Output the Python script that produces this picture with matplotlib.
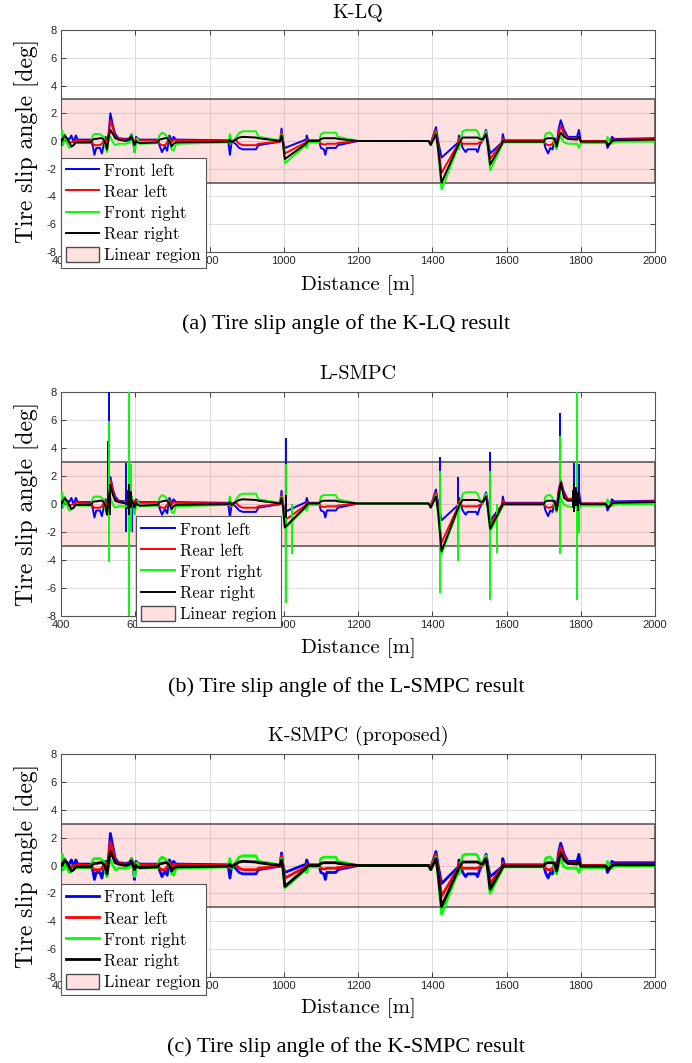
import matplotlib
matplotlib.use('Agg')
import matplotlib.pyplot as plt
from matplotlib.patches import Patch

plt.rcParams['axes.unicode_minus'] = False

# distance breakpoints [m], shared by every series (rows of 10)
distance = [
    400, 403, 406, 410, 416, 422, 428, 434, 440, 445,
    480, 486, 490, 495, 505, 510, 515, 520, 524, 528,
    533, 540, 546, 555, 575, 585, 590, 594, 598, 602,
    606, 612, 660, 665, 672, 680, 686, 692, 698, 703,
    710, 850, 855, 860, 870, 880, 890, 925, 932, 990,
    994, 998, 1003, 1060, 1062, 1066, 1095, 1100, 1108, 1112,
    1116, 1140, 1146, 1200, 1390, 1396, 1410, 1416, 1425, 1470,
    1472, 1476, 1482, 1490, 1495, 1518, 1522, 1528, 1536, 1545,
    1550, 1556, 1588, 1590, 1594, 1700, 1705, 1712, 1718, 1724,
    1730, 1735, 1740, 1746, 1755, 1765, 1790, 1795, 1800, 1868,
    1872, 1878, 1884, 1890, 2000,
]

# ---- K-LQ ----
klq_fl = [
    0.1, -0.3, 0.3, 0.0, 0.2, 0.1, 0.4, -0.1, 0.4, 0.1,
    0.1, -0.4, -1.0, -0.5, -0.5, -0.9, -0.3, 0.3, 0.0, 0.5,
    2.0, 1.1, 0.5, 0.2, 0.15, 0.2, 0.5, 0.0, -0.8, 0.3,
    0.2, 0.1, 0.1, -0.3, -0.8, -0.4, -0.7, 0.4, 0.0, 0.3,
    0.1, 0.05, -1.0, 0.0, -0.2, -0.5, -0.6, -0.6, -0.3, -0.05,
    0.9, 0.0, -0.5, 0.1, 0.4, 0.05, 0.05, -0.5, -0.6, -1.0,
    -0.5, -0.5, -0.3, 0.0, 0.0, -0.2, 1.0, 0.0, -1.2, -0.1,
    0.4, 0.0, -0.5, -0.8, -0.6, -0.6, -0.8, -0.3, 0.1, 0.8,
    0.0, -0.9, -0.1, 0.5, 0.05, 0.05, -0.5, -0.9, -0.5, -0.6,
    0.2, -0.3, 0.8, 1.5, 0.8, 0.3, 0.3, 0.8, 0.0, 0.0,
    -0.5, -0.2, 0.3, 0.15, 0.2,
]
klq_rl = [
    0.3, 0.2, 0.1, 0.0, 0.0, -0.1, -0.1, 0.0, 0.05, 0.05,
    0.0, -0.2, -0.3, -0.3, -0.3, -0.2, 0.0, 0.2, -0.3, 0.3,
    1.5, 0.9, 0.3, 0.15, 0.1, 0.1, 0.3, 0.0, -0.2, 0.2,
    0.1, 0.05, 0.05, -0.2, -0.3, -0.3, -0.1, 0.2, -0.1, 0.1,
    0.05, 0.0, -0.2, 0.0, 0.1, -0.2, -0.3, -0.3, -0.2, -0.05,
    0.7, 0.0, -0.9, -0.1, 0.1, 0.0, 0.0, -0.2, -0.25, -0.25,
    -0.2, -0.2, -0.15, 0.0, 0.0, -0.1, 0.8, -0.3, -2.3, -0.2,
    0.2, 0.0, -0.2, -0.2, -0.2, -0.2, -0.2, -0.1, 0.0, 0.6,
    -0.3, -1.3, -0.1, 0.2, 0.0, 0.0, -0.2, -0.3, -0.3, -0.2,
    0.1, -0.3, 0.5, 1.1, 0.5, 0.2, 0.15, 0.3, 0.0, 0.0,
    -0.2, -0.2, 0.1, 0.1, 0.15,
]
klq_fr = [
    0.3, 0.8, -0.3, 0.5, -0.1, -0.5, -0.4, -0.3, -0.1, -0.15,
    -0.15, 0.4, 0.5, 0.5, 0.5, 0.4, 0.3, -0.5, -0.8, 0.0,
    0.3, -0.1, -0.3, -0.2, -0.2, -0.1, 0.5, 0.0, -0.8, -0.2,
    0.2, -0.2, -0.15, 0.4, 0.6, 0.5, 0.3, 0.0, -0.6, -0.7,
    -0.2, -0.1, 0.5, -0.2, 0.2, 0.6, 0.7, 0.7, 0.3, 0.05,
    0.5, -0.2, -1.6, -0.3, -0.5, -0.1, -0.1, 0.5, 0.6, 0.6,
    0.6, 0.6, 0.3, 0.0, 0.0, -0.3, 0.6, -0.8, -3.5, -0.4,
    -0.6, 0.0, 0.7, 0.8, 0.8, 0.8, 0.7, 0.3, 0.0, 0.7,
    -0.6, -2.1, -0.3, -0.2, -0.1, -0.1, 0.5, 0.6, 0.6, 0.4,
    -0.3, -0.6, 0.0, 0.3, -0.1, -0.2, -0.2, -0.5, -0.15, -0.15,
    0.3, 0.0, -0.2, -0.05, -0.05,
]
klq_rr = [
    0.1, 0.0, 0.2, 0.4, 0.2, -0.1, -0.4, -0.3, -0.1, -0.1,
    -0.1, 0.1, 0.15, 0.15, 0.2, 0.2, 0.1, -0.2, -0.6, 0.2,
    0.8, 0.5, 0.2, 0.1, 0.0, 0.1, 0.35, 0.0, -0.3, 0.0,
    -0.1, -0.15, -0.1, 0.1, 0.15, 0.2, 0.2, 0.0, -0.4, -0.2,
    -0.1, -0.05, 0.1, -0.1, 0.1, 0.25, 0.3, 0.25, 0.2, 0.0,
    0.4, -0.2, -1.3, -0.2, -0.1, 0.0, 0.0, 0.15, 0.2, 0.2,
    0.2, 0.2, 0.15, 0.0, 0.0, -0.3, 0.5, -0.6, -3.0, -0.3,
    -0.2, 0.0, 0.25, 0.25, 0.25, 0.25, 0.25, 0.15, 0.1, 0.5,
    -0.4, -1.7, -0.2, 0.0, -0.05, -0.05, 0.15, 0.2, 0.2, 0.2,
    0.1, -0.4, 0.2, 0.6, 0.3, 0.15, 0.1, 0.3, -0.05, -0.05,
    -0.3, -0.2, 0.0, 0.05, 0.1,
]

# ---- L-SMPC ----
lsmpc_fl = [
    0.1, -0.3, 0.3, 0.0, 0.2, 0.1, 0.4, -0.1, 0.4, 0.1,
    0.1, -0.4, -1.0, -0.5, -0.5, -0.9, -0.3, 0.3, 0.0, 0.5,
    1.9, 1.0, 0.5, 0.2, 0.15, 0.3, 0.5, -0.2, -0.6, 0.3,
    0.2, 0.1, 0.1, -0.3, -0.8, -0.4, -0.7, 0.4, 0.0, 0.3,
    0.1, 0.05, -1.0, 0.0, -0.2, -0.5, -0.6, -0.6, -0.3, -0.05,
    0.9, 0.0, -0.6, 0.1, 0.4, 0.05, 0.05, -0.5, -0.6, -1.0,
    -0.5, -0.5, -0.3, 0.0, 0.0, -0.2, 1.0, 0.0, -1.2, -0.1,
    0.4, 0.0, -0.5, -0.8, -0.6, -0.6, -0.8, -0.3, 0.1, 0.8,
    0.0, -1.2, -0.1, 0.5, 0.05, 0.05, -0.5, -0.9, -0.5, -0.6,
    0.2, -0.3, 0.9, 1.6, 0.8, 0.3, 0.4, 0.9, 0.0, 0.0,
    -0.5, -0.2, 0.3, 0.15, 0.2,
]
lsmpc_rl = [
    0.3, 0.2, 0.1, 0.0, 0.0, -0.1, -0.1, 0.0, 0.05, 0.05,
    0.0, -0.2, -0.3, -0.3, -0.3, -0.2, 0.0, 0.2, -0.3, 0.3,
    1.7, 0.9, 0.3, 0.15, 0.1, 0.3, 0.4, -0.1, 0.2, 0.2,
    0.1, 0.05, 0.05, -0.2, -0.3, -0.3, -0.1, 0.2, -0.1, 0.1,
    0.05, 0.0, -0.2, 0.0, 0.1, -0.2, -0.3, -0.3, -0.2, -0.05,
    0.7, 0.0, -1.2, -0.1, 0.1, 0.0, 0.0, -0.2, -0.25, -0.25,
    -0.2, -0.2, -0.15, 0.0, 0.0, -0.1, 0.8, -0.3, -2.8, -0.2,
    0.2, 0.0, -0.2, -0.2, -0.2, -0.2, -0.2, -0.1, 0.0, 0.6,
    -0.3, -1.5, -0.1, 0.2, 0.0, 0.0, -0.2, -0.3, -0.3, -0.2,
    0.1, -0.3, 0.6, 1.7, 0.6, 0.3, 0.4, 0.2, 0.0, 0.0,
    -0.2, -0.2, 0.1, 0.1, 0.15,
]
lsmpc_fr = [
    0.3, 0.8, -0.3, 0.5, -0.1, -0.5, -0.4, -0.3, -0.1, -0.15,
    -0.15, 0.4, 0.5, 0.5, 0.5, 0.4, 0.3, -0.5, -0.8, 0.0,
    0.4, -0.1, -0.3, -0.2, -0.2, -0.1, 0.5, 0.0, -0.8, -0.2,
    0.2, -0.2, -0.15, 0.4, 0.6, 0.5, 0.3, 0.0, -0.6, -0.7,
    -0.2, -0.1, 0.5, -0.2, 0.2, 0.6, 0.7, 0.7, 0.3, 0.05,
    0.5, -0.2, -1.8, -0.3, -0.5, -0.1, -0.1, 0.5, 0.6, 0.6,
    0.6, 0.6, 0.3, 0.0, 0.0, -0.3, 0.6, -0.8, -3.6, -0.4,
    -0.6, 0.0, 0.7, 0.8, 0.8, 0.8, 0.7, 0.3, 0.0, 0.7,
    -0.6, -2.0, -0.3, -0.2, -0.1, -0.1, 0.5, 0.6, 0.6, 0.4,
    -0.3, -0.6, 0.0, 0.4, -0.1, -0.2, -0.3, -0.5, -0.15, -0.15,
    0.3, 0.0, -0.2, -0.05, -0.05,
]
lsmpc_rr = [
    0.1, 0.0, 0.2, 0.4, 0.2, -0.1, -0.4, -0.3, -0.1, -0.1,
    -0.1, 0.1, 0.15, 0.15, 0.2, 0.2, 0.1, -0.2, -0.8, 0.3,
    1.3, 0.6, 0.2, 0.1, 0.0, 0.2, 0.3, 0.0, -0.3, 0.1,
    -0.1, -0.15, -0.1, 0.1, 0.15, 0.2, 0.2, 0.0, -0.4, -0.2,
    -0.1, -0.05, 0.1, -0.1, 0.1, 0.25, 0.3, 0.25, 0.2, 0.0,
    0.4, -0.3, -1.7, -0.2, -0.1, 0.0, 0.0, 0.15, 0.2, 0.2,
    0.2, 0.2, 0.15, 0.0, 0.0, -0.3, 0.5, -0.6, -3.4, -0.3,
    -0.2, 0.0, 0.25, 0.25, 0.25, 0.25, 0.25, 0.15, 0.1, 0.5,
    -0.4, -1.8, -0.2, 0.0, -0.05, -0.05, 0.15, 0.2, 0.2, 0.2,
    0.1, -0.5, 0.3, 1.5, 0.4, 0.2, 0.2, 0.3, -0.05, -0.05,
    -0.3, -0.2, 0.0, 0.05, 0.1,
]
# L-SMPC needle spikes: distance, lower end, upper end
lsmpc_fl_spike_d = [527, 530, 576, 590, 1007, 1421, 1469, 1555, 1743, 1745, 1781, 1796]
lsmpc_fl_spike_lo = [0.3, 0.3, -2.0, -2.0, 0.0, 0.0, 0.0, 0.0, 0.3, 0.3, 0.0, -2.1]
lsmpc_fl_spike_hi = [4.5, 9.0, 2.9, 0.3, 4.7, 3.3, 1.9, 3.7, 4.2, 6.5, 2.9, 2.8]
lsmpc_fr_spike_d = [530, 583, 589, 1005, 1007, 1023, 1421, 1469, 1555, 1574, 1745, 1791, 1796]
lsmpc_fr_spike_lo = [-4.2, -9.0, -2.0, -2.5, -7.1, -3.6, -6.4, -4.1, -6.9, -3.5, -3.6, -6.9, -2.1]
lsmpc_fr_spike_hi = [5.9, 9.0, 2.8, 0.3, 2.8, 0.0, 2.3, 0.0, 2.3, 0.0, 4.8, 9.0, 0.0]
lsmpc_rr_spike_d = [531, 580, 584, 588, 1005, 1778, 1783, 1788, 1793]
lsmpc_rr_spike_lo = [-0.8, -0.4, -0.8, -0.3, -1.0, -0.3, -0.6, -0.2, -0.5]
lsmpc_rr_spike_hi = [1.4, 1.0, 1.4, 0.9, 0.6, 1.0, 1.5, 1.2, 0.8]

# ---- K-SMPC (proposed) ----
ksmpc_fl = [
    0.1, -0.3, 0.3, 0.0, 0.2, 0.1, 0.4, -0.1, 0.4, 0.1,
    0.1, -0.4, -1.0, -0.5, -0.5, -0.9, -0.3, 0.3, 0.0, 0.5,
    2.3, 1.3, 0.5, 0.2, 0.15, 0.2, 0.5, 0.0, -1.0, 0.3,
    0.2, 0.1, 0.1, -0.3, -0.8, -0.4, -0.7, 0.4, 0.0, 0.3,
    0.1, 0.05, -0.9, 0.0, -0.2, -0.5, -0.6, -0.6, -0.3, -0.05,
    0.9, 0.0, -0.5, 0.1, 0.4, 0.05, 0.05, -0.5, -0.6, -1.0,
    -0.5, -0.5, -0.3, 0.0, 0.0, -0.2, 1.0, 0.0, -1.3, -0.1,
    0.4, 0.0, -0.5, -0.8, -0.6, -0.6, -0.8, -0.3, 0.1, 0.8,
    0.0, -0.8, -0.1, 0.5, 0.05, 0.05, -0.5, -0.9, -0.5, -0.6,
    0.2, -0.3, 0.9, 1.6, 0.8, 0.3, 0.3, 0.8, 0.0, 0.0,
    -0.5, -0.2, 0.3, 0.2, 0.2,
]
ksmpc_rl = [
    0.3, 0.2, 0.1, 0.0, 0.0, -0.1, -0.1, 0.0, 0.05, 0.05,
    0.0, -0.2, -0.3, -0.3, -0.3, -0.2, 0.0, 0.2, -0.3, 0.3,
    1.7, 1.0, 0.3, 0.15, 0.1, 0.1, 0.3, 0.0, -0.2, 0.2,
    0.1, 0.05, 0.05, -0.2, -0.3, -0.3, -0.1, 0.2, -0.1, 0.1,
    0.05, 0.0, -0.2, 0.0, 0.1, -0.2, -0.3, -0.3, -0.2, -0.05,
    0.7, 0.0, -0.9, -0.1, 0.1, 0.0, 0.0, -0.2, -0.25, -0.25,
    -0.2, -0.2, -0.15, 0.0, 0.0, -0.1, 0.8, -0.3, -2.2, -0.2,
    0.2, 0.0, -0.2, -0.2, -0.2, -0.2, -0.2, -0.1, 0.0, 0.6,
    -0.3, -1.3, -0.1, 0.2, 0.0, 0.0, -0.2, -0.3, -0.3, -0.2,
    0.1, -0.3, 0.6, 1.3, 0.6, 0.2, 0.15, 0.3, 0.0, 0.0,
    -0.2, -0.2, 0.1, 0.1, 0.1,
]
ksmpc_fr = [
    0.3, 0.8, -0.3, 0.5, -0.1, -0.5, -0.4, -0.3, -0.1, -0.15,
    -0.15, 0.4, 0.5, 0.5, 0.5, 0.4, 0.3, -0.5, -0.8, 0.0,
    0.4, 0.0, -0.3, -0.2, -0.2, -0.1, 0.5, 0.0, -0.8, -0.2,
    0.2, -0.2, -0.15, 0.4, 0.6, 0.5, 0.3, 0.0, -0.6, -0.7,
    -0.2, -0.1, 0.5, -0.2, 0.2, 0.6, 0.7, 0.7, 0.3, 0.05,
    0.5, -0.2, -1.6, -0.3, -0.5, -0.1, -0.1, 0.5, 0.6, 0.6,
    0.6, 0.6, 0.3, 0.0, 0.0, -0.3, 0.6, -0.8, -3.5, -0.4,
    -0.6, 0.0, 0.7, 0.8, 0.8, 0.8, 0.7, 0.3, 0.0, 0.7,
    -0.6, -2.0, -0.3, -0.2, -0.1, -0.1, 0.5, 0.6, 0.6, 0.4,
    -0.3, -0.6, 0.0, 0.4, -0.1, -0.2, -0.2, -0.5, -0.15, -0.15,
    0.3, 0.0, -0.2, -0.05, -0.05,
]
ksmpc_rr = [
    0.1, 0.0, 0.2, 0.4, 0.2, -0.1, -0.4, -0.3, -0.1, -0.1,
    -0.1, 0.1, 0.15, 0.15, 0.2, 0.2, 0.1, -0.2, -0.6, 0.2,
    1.0, 0.6, 0.2, 0.1, 0.0, 0.1, 0.35, 0.0, -0.3, 0.0,
    -0.1, -0.15, -0.1, 0.1, 0.15, 0.2, 0.2, 0.0, -0.4, -0.2,
    -0.1, -0.05, 0.1, -0.1, 0.1, 0.25, 0.3, 0.25, 0.2, 0.0,
    0.4, -0.2, -1.5, -0.2, -0.1, 0.0, 0.0, 0.15, 0.2, 0.2,
    0.2, 0.2, 0.15, 0.0, 0.0, -0.3, 0.5, -0.6, -2.95, -0.3,
    -0.2, 0.0, 0.25, 0.25, 0.25, 0.25, 0.25, 0.15, 0.1, 0.5,
    -0.4, -1.7, -0.2, 0.0, -0.05, -0.05, 0.15, 0.2, 0.2, 0.2,
    0.1, -0.4, 0.3, 0.9, 0.4, 0.15, 0.1, 0.3, -0.05, -0.05,
    -0.3, -0.2, 0.0, 0.05, 0.05,
]

labels = ['Front left', 'Rear left', 'Front right', 'Rear right', 'Linear region']
colors = ['#0000ff', '#ff0000', '#00ff00', '#000000']
linear_limit = 3
titles = ['K-LQ', 'L-SMPC', 'K-SMPC (proposed)']
captions = ['(a) Tire slip angle of the K-LQ result',
            '(b) Tire slip angle of the L-SMPC result',
            '(c) Tire slip angle of the K-SMPC result']

CM = ['cmr10', 'DejaVu Serif']
W, H = 692, 1063
AX_L, AX_R = 61, 655

fig = plt.figure(figsize=(W / 100, H / 100), dpi=100)

# (top px, bottom px, title y, xlabel y, caption y, legend x, legend y, lw)
layout = [
    (30, 252, 13, 285, 324, 0.0, 0.425, 1.4),
    (391.5, 615.5, 374, 648, 687, 0.127, 0.442, 1.4),
    (754, 977, 736, 1008, 1047, 0.0, 0.416, 2.0),
]
data = [
    (klq_fl, klq_rl, klq_fr, klq_rr),
    (lsmpc_fl, lsmpc_rl, lsmpc_fr, lsmpc_rr),
    (ksmpc_fl, ksmpc_rl, ksmpc_fr, ksmpc_rr),
]
# spikes only in the L-SMPC panel, keyed by series index
spikes = {
    0: (lsmpc_fl_spike_d, lsmpc_fl_spike_lo, lsmpc_fl_spike_hi),
    2: (lsmpc_fr_spike_d, lsmpc_fr_spike_lo, lsmpc_fr_spike_hi),
    3: (lsmpc_rr_spike_d, lsmpc_rr_spike_lo, lsmpc_rr_spike_hi),
}

for i, (top, bot, ty, xly, cy, lgx, lgy, lw) in enumerate(layout):
    hpx = bot - top
    ax = fig.add_axes([AX_L / W, 1 - bot / H, (AX_R - AX_L) / W, hpx / H])
    ax.set_xlim(400, 2000)
    ax.set_ylim(-8, 8)
    ax.set_xticks(range(400, 2001, 200))
    ax.set_yticks(range(-8, 9, 2))
    ax.grid(True, color='#dcdcdc', lw=0.7)
    ax.set_axisbelow(True)
    ax.tick_params(direction='in', length=3.5, width=0.6, top=True, right=True,
                   labelsize=8, colors='#262626', pad=3)
    for lab in ax.get_xticklabels() + ax.get_yticklabels():
        lab.set_family(['Liberation Sans', 'DejaVu Sans'])
    for s in ax.spines.values():
        s.set_color('#555555')
        s.set_linewidth(0.8)

    ax.axhspan(-linear_limit, linear_limit, facecolor=(1, 0, 0, 0.12),
               edgecolor=(0.3, 0.3, 0.3, 1), lw=1.1, zorder=1.5)

    handles = []
    for k, (vals, c) in enumerate(zip(data[i], colors)):
        ln, = ax.plot(distance, vals, color=c, lw=lw, zorder=3 + k)
        handles.append(ln)
        if i == 1 and k in spikes:
            sd, slo, shi = spikes[k]
            ax.vlines(sd, slo, shi, color=c, lw=lw, zorder=3 + k)
    handles.append(Patch(facecolor=(1, 0, 0, 0.12), edgecolor=(0.3, 0.3, 0.3, 1), lw=1.0))

    leg = ax.legend(handles, labels, loc='upper left', bbox_to_anchor=(lgx, lgy),
                    borderaxespad=0, fancybox=False, framealpha=1, edgecolor='#555555',
                    prop={'family': 'cmr10', 'size': 12}, handlelength=2.0,
                    handletextpad=0.3, borderpad=0.3, labelspacing=0.3,
                    handleheight=1.0)
    leg.get_frame().set_linewidth(0.8)
    leg.set_zorder(10)

    fig.text((AX_L + AX_R) / 2 / W, 1 - ty / H, titles[i], ha='center', va='center',
             family=CM, fontsize=14.5)
    ax.set_xlabel('Distance [m]', family=CM, fontsize=15)
    ax.xaxis.set_label_coords(0.5, -(xly - bot) / hpx)
    ax.xaxis.label.set_va('center')
    ax.set_ylabel('Tire slip angle [deg]', family=CM, fontsize=17)
    ax.yaxis.set_label_coords((27 - AX_L) / (AX_R - AX_L), 0.5)
    ax.yaxis.label.set_va('center')

    fig.text(346 / W, 1 - cy / H, captions[i], ha='center', va='center',
             family=['Liberation Serif', 'DejaVu Serif'], fontsize=16)

fig.savefig('out.png', dpi=100)
